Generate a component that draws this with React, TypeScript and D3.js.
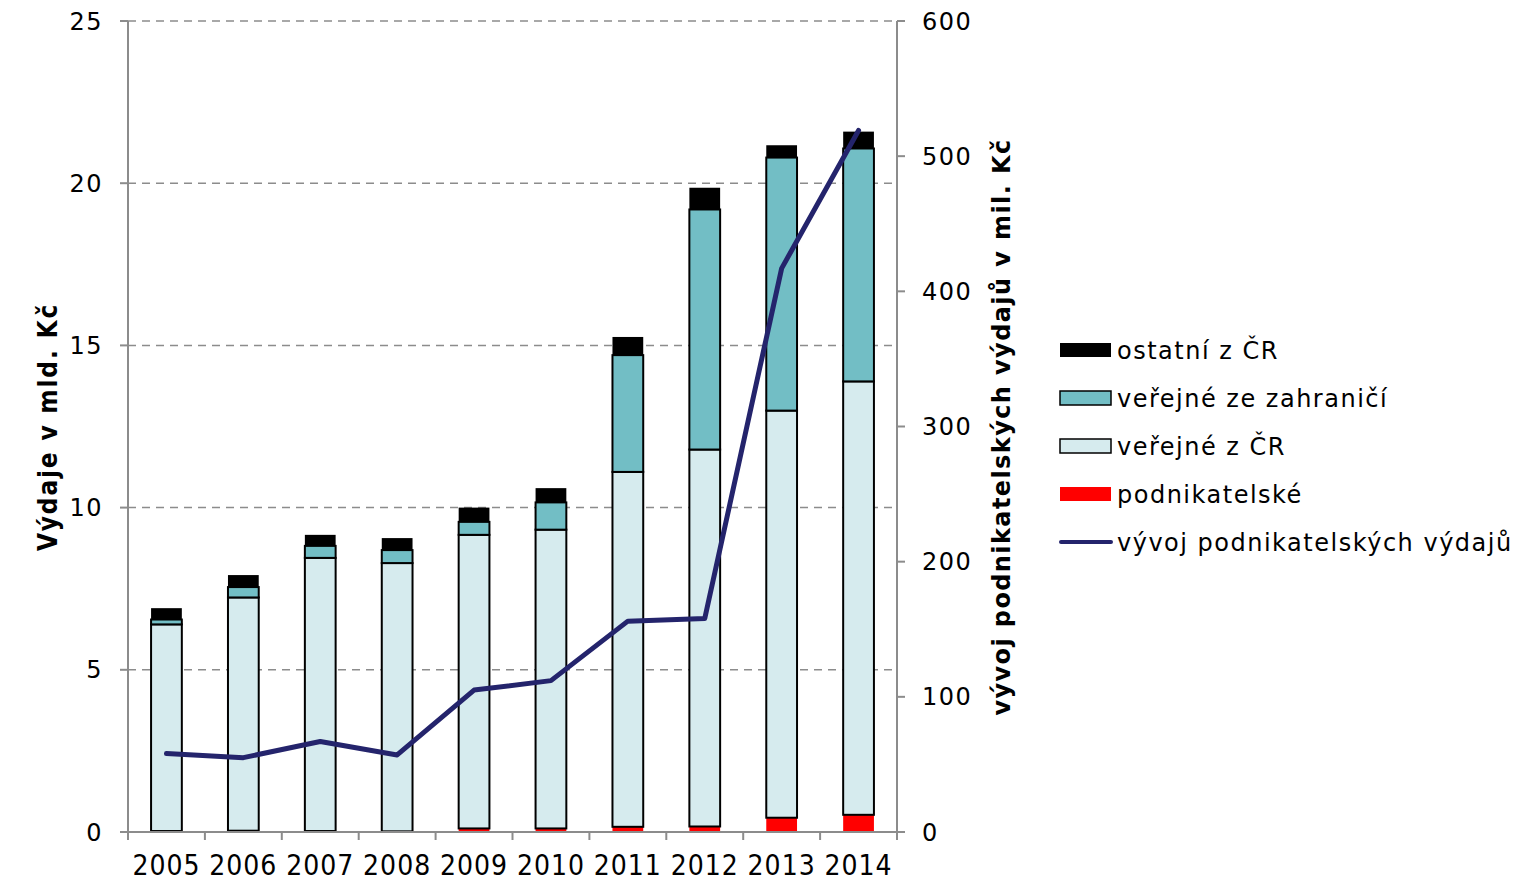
import React, { useEffect, useRef } from 'react';
import * as d3 from 'd3';

// roky
const years = ['2005', '2006', '2007', '2008', '2009', '2010', '2011', '2012', '2013', '2014'];

// výdaje v mld. Kč (skládané sloupce)
const podnikatelske = [0.03, 0.04, 0.03, 0.02, 0.11, 0.11, 0.16, 0.17, 0.44, 0.53];
const verejneCR = [6.37, 7.19, 8.42, 8.27, 9.05, 9.21, 10.94, 11.62, 12.55, 13.36];
const verejneZahranici = [0.15, 0.32, 0.37, 0.40, 0.40, 0.84, 3.60, 7.40, 7.80, 7.18];
const ostatniCR = [0.35, 0.37, 0.34, 0.37, 0.44, 0.44, 0.56, 0.67, 0.38, 0.52];

// vývoj podnikatelských výdajů v mil. Kč (čára)
const vyvojPodnikatelskych = [58, 55, 67, 57, 105, 112, 156, 158, 417, 519];

const leftTicks = [0, 5, 10, 15, 20, 25];
const rightTicks = [0, 100, 200, 300, 400, 500, 600];

const seriesNames = ['podnikatelské', 'veřejné z ČR', 'veřejné ze zahraničí', 'ostatní z ČR'];
const seriesColors = ['#ff0000', '#d6ebee', '#72bec5', '#000000'];
const lineColor = '#24246c';

const width = 1526;
const height = 881;

function App() {
  const svgRef = useRef<SVGSVGElement>(null);

  useEffect(() => {
    if (!svgRef.current) return;
    const svg = d3.select(svgRef.current);
    svg.selectAll('*').remove();

    const margin = { top: 21, left: 128, right: 897, bottom: 832 };

    const x = d3.scaleBand()
      .domain(years)
      .range([margin.left, margin.right])
      .paddingInner(0.6)
      .paddingOuter(0.3);
    const xBand = d3.scaleBand().domain(years).range([margin.left, margin.right]);

    const yLeft = d3.scaleLinear().domain([0, 25]).range([margin.bottom, margin.top]);
    const yRight = d3.scaleLinear().domain([0, 600]).range([margin.bottom, margin.top]);

    const font = 'Verdana, "DejaVu Sans", sans-serif';

    // mřížka
    svg.append('g')
      .selectAll('line')
      .data(leftTicks.filter(d => d > 0))
      .enter().append('line')
      .attr('x1', margin.left)
      .attr('x2', margin.right)
      .attr('y1', d => yLeft(d))
      .attr('y2', d => yLeft(d))
      .attr('stroke', '#8c8c8c')
      .attr('stroke-width', 1.5)
      .attr('stroke-dasharray', '8,6');

    // skládané sloupce
    const table = years.map((yr, i) => ({
      year: yr,
      s0: podnikatelske[i],
      s1: verejneCR[i],
      s2: verejneZahranici[i],
      s3: ostatniCR[i],
    }));
    const stack = d3.stack<any>().keys(['s0', 's1', 's2', 's3'])(table);

    stack.forEach((layer, li) => {
      svg.append('g')
        .selectAll('rect')
        .data(layer)
        .enter().append('rect')
        .attr('x', d => x(d.data.year) || 0)
        .attr('width', x.bandwidth())
        .attr('y', d => yLeft(d[1]))
        .attr('height', d => yLeft(d[0]) - yLeft(d[1]))
        .attr('fill', seriesColors[li])
        .attr('stroke', li === 1 || li === 2 ? '#000' : 'none')
        .attr('stroke-width', 2);
    });

    // osy
    const axisColor = '#8c8c8c';
    const gAxes = svg.append('g').attr('stroke', axisColor).attr('stroke-width', 2);
    gAxes.append('line')
      .attr('x1', margin.left).attr('x2', margin.left)
      .attr('y1', margin.top).attr('y2', margin.bottom);
    gAxes.append('line')
      .attr('x1', margin.right).attr('x2', margin.right)
      .attr('y1', margin.top).attr('y2', margin.bottom);
    gAxes.append('line')
      .attr('x1', margin.left).attr('x2', margin.right + 8)
      .attr('y1', margin.bottom).attr('y2', margin.bottom);

    gAxes.selectAll('.lt')
      .data(leftTicks)
      .enter().append('line')
      .attr('x1', margin.left - 8).attr('x2', margin.left)
      .attr('y1', d => yLeft(d)).attr('y2', d => yLeft(d));
    gAxes.selectAll('.rt')
      .data(rightTicks)
      .enter().append('line')
      .attr('x1', margin.right).attr('x2', margin.right + 8)
      .attr('y1', d => yRight(d)).attr('y2', d => yRight(d));
    gAxes.selectAll('.xt')
      .data(years.concat(['end']))
      .enter().append('line')
      .attr('x1', (d, i) => i < years.length ? (xBand(d) || 0) : margin.right)
      .attr('x2', (d, i) => i < years.length ? (xBand(d) || 0) : margin.right)
      .attr('y1', margin.bottom).attr('y2', margin.bottom + 8);

    // popisky os
    svg.append('g')
      .selectAll('text')
      .data(leftTicks)
      .enter().append('text')
      .attr('x', 103)
      .attr('y', d => yLeft(d))
      .attr('dy', '0.36em')
      .attr('text-anchor', 'end')
      .style('font-family', font)
      .style('font-size', '24px')
      .style('letter-spacing', '1.5px')
      .style('fill', '#000')
      .text(d => d);

    svg.append('g')
      .selectAll('text')
      .data(rightTicks)
      .enter().append('text')
      .attr('x', 922)
      .attr('y', d => yRight(d))
      .attr('dy', '0.36em')
      .style('font-family', font)
      .style('font-size', '24px')
      .style('letter-spacing', '1.5px')
      .style('fill', '#000')
      .text(d => d);

    svg.append('g')
      .selectAll('text')
      .data(years)
      .enter().append('text')
      .attr('x', d => (xBand(d) || 0) + xBand.bandwidth() / 2)
      .attr('y', 875)
      .attr('text-anchor', 'middle')
      .style('font-family', '"DejaVu Sans Condensed", sans-serif')
      .style('font-size', '28px')
      .style('letter-spacing', '1px')
      .style('fill', '#000')
      .text(d => d);

    svg.append('text')
      .attr('transform', `translate(57,427) rotate(-90)`)
      .attr('text-anchor', 'middle')
      .style('font-family', '"DejaVu Sans Condensed", sans-serif')
      .style('font-weight', 'bold')
      .style('font-size', '26px')
      .style('letter-spacing', '1.8px')
      .text('Výdaje v mld. Kč');

    svg.append('text')
      .attr('transform', `translate(1010,427) rotate(-90)`)
      .attr('text-anchor', 'middle')
      .style('font-family', font)
      .style('font-weight', 'bold')
      .style('font-size', '24px')
      .style('letter-spacing', '1.4px')
      .text('vývoj podnikatelských výdajů v mil. Kč');

    // čára
    const line = d3.line<number>()
      .x((d, i) => (x(years[i]) || 0) + x.bandwidth() / 2)
      .y(d => yRight(d));
    svg.append('path')
      .datum(vyvojPodnikatelskych)
      .attr('d', line)
      .attr('fill', 'none')
      .attr('stroke', lineColor)
      .attr('stroke-width', 5)
      .attr('stroke-linejoin', 'round')
      .attr('stroke-linecap', 'round');

    // legenda
    const legendItems = [
      { name: seriesNames[3], color: seriesColors[3], border: false, line: false },
      { name: seriesNames[2], color: seriesColors[2], border: true, line: false },
      { name: seriesNames[1], color: seriesColors[1], border: true, line: false },
      { name: seriesNames[0], color: seriesColors[0], border: false, line: false },
      { name: 'vývoj podnikatelských výdajů', color: lineColor, border: false, line: true },
    ];
    const lg = svg.append('g');
    legendItems.forEach((item, i) => {
      const cy = 350 + i * 48;
      if (item.line) {
        lg.append('line')
          .attr('x1', 1061).attr('x2', 1111)
          .attr('y1', cy).attr('y2', cy)
          .attr('stroke', item.color)
          .attr('stroke-width', 4)
          .attr('stroke-linecap', 'round');
      } else {
        lg.append('rect')
          .attr('x', 1060).attr('y', cy - 7)
          .attr('width', 51).attr('height', 14)
          .attr('fill', item.color)
          .attr('stroke', item.border ? '#000' : 'none')
          .attr('stroke-width', 1.5);
      }
      lg.append('text')
        .attr('x', 1117)
        .attr('y', cy)
        .attr('dy', '0.36em')
        .style('font-family', font)
        .style('font-size', '24px')
        .style('letter-spacing', '1.5px')
        .style('fill', '#000')
        .text(item.name);
    });
  }, []);

  return (
    <svg
      ref={svgRef}
      width={width}
      height={height}
      style={{ position: 'absolute', left: 0, top: 0, background: '#fff' }}
    ></svg>
  );
}

export default App;
